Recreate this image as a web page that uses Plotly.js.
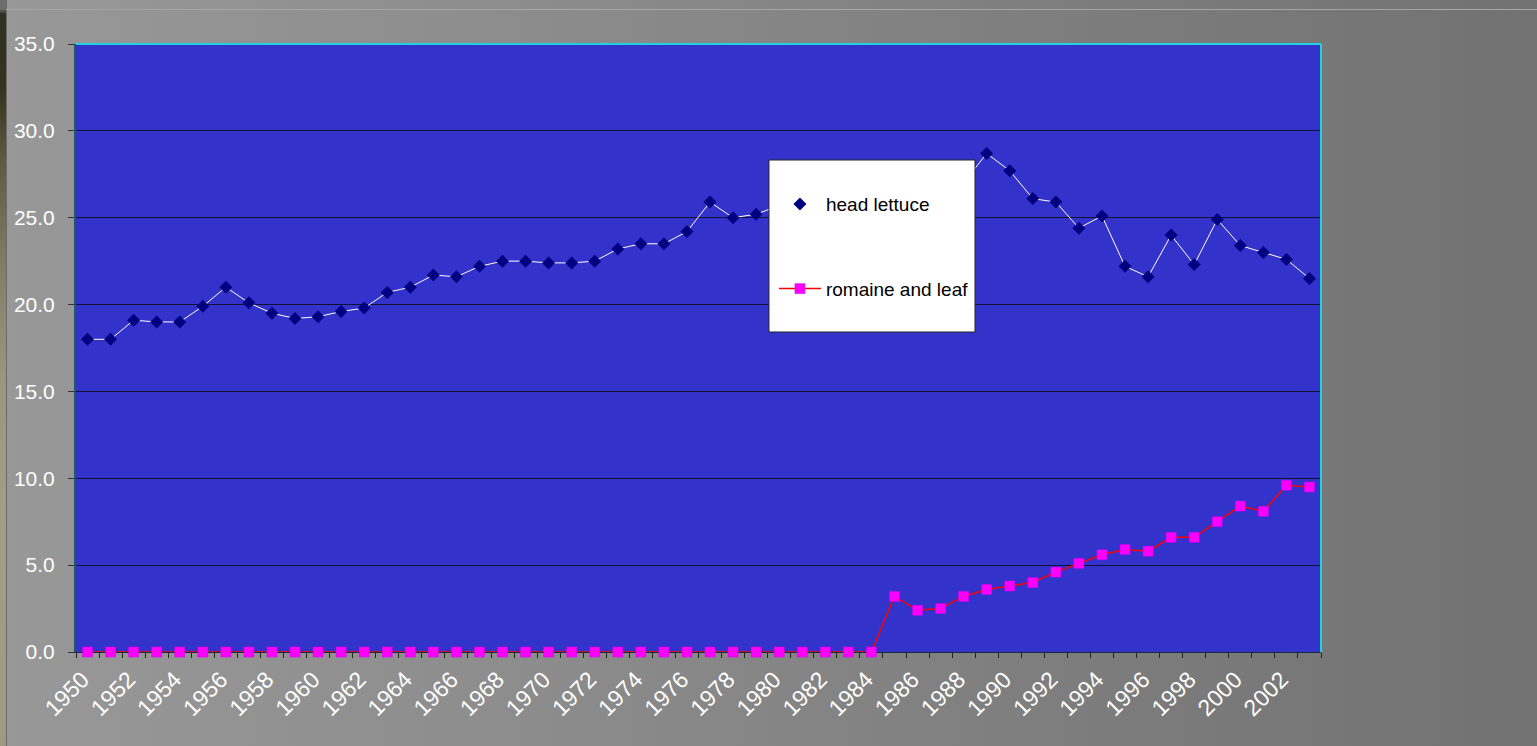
<!DOCTYPE html>
<html>
<head>
<meta charset="utf-8">
<script src="https://cdn.plot.ly/plotly-3.0.1.min.js"></script>
<style>
  html, body { margin: 0; padding: 0; }
  body {
    width: 1537px; height: 746px; overflow: hidden; position: relative;
    background: linear-gradient(to right, #989898 0%, #8c8c8c 35%, #7d7d7d 70%, #727272 100%);
  }
  #edge {
    position: absolute; left: 0; top: 0; width: 6px; height: 746px;
    background: linear-gradient(to bottom, #6e6e6e 0px, #6e6e6e 9px, #2f3122 14px, #34331f 90px,
      #5d5a42 160px, #7f7c66 260px, #9a9680 380px, #a19d86 520px, #9d9a84 746px);
    border-right: 1px solid #6a6a6a;
  }
  #rule {
    position: absolute; left: 6px; top: 9px; width: 1531px; height: 1px; background: #a6a6a6;
  }
  #chart { position: absolute; left: 0; top: 0; width: 1537px; height: 746px; }
</style>
</head>
<body>
<div id="edge"></div>
<div id="rule"></div>
<div id="chart"></div>
<script>
// Per-capita consumption, pounds, 1950-2003
const years = [];
for (let y = 1950; y <= 2003; y++) years.push(y);

const headLettuce = [
  18.0, 18.0, 19.1, 19.0, 19.0, 19.9, 21.0, 20.1, 19.5, 19.2,
  19.3, 19.6, 19.8, 20.7, 21.0, 21.7, 21.6, 22.2, 22.5, 22.5,
  22.4, 22.4, 22.5, 23.2, 23.5, 23.5, 24.2, 25.9, 25.0, 25.2,
  25.7, 25.9, 26.3, 26.1, 26.6, 26.9, 26.3, 27.5, 27.0, 28.7,
  27.7, 26.1, 25.9, 24.4, 25.1, 22.2, 21.6, 24.0, 22.3, 24.9,
  23.4, 23.0, 22.6, 21.5
];

const romaineLeaf = [
  0, 0, 0, 0, 0, 0, 0, 0, 0, 0,
  0, 0, 0, 0, 0, 0, 0, 0, 0, 0,
  0, 0, 0, 0, 0, 0, 0, 0, 0, 0,
  0, 0, 0, 0, 0, 3.2, 2.4, 2.5, 3.2, 3.6,
  3.8, 4.0, 4.6, 5.1, 5.6, 5.9, 5.8, 6.6, 6.6, 7.5,
  8.4, 8.1, 9.6, 9.5
];

const labelYears = years.filter(y => y % 2 === 0);
const labelText = labelYears.map(String);

const font = 'Arial, "Liberation Sans", sans-serif';

const traces = [
  {
    x: years, y: headLettuce, name: 'head lettuce',
    type: 'scatter', mode: 'lines+markers',
    line: { color: '#ffffff', width: 1 },
    marker: { symbol: 'diamond', color: '#000080', size: 10 },
    legendgroup: 'a'
  },
  {
    x: years, y: romaineLeaf, name: 'romaine and leaf',
    type: 'scatter', mode: 'lines+markers', cliponaxis: false,
    line: { color: '#ff0000', width: 1.5 },
    marker: { symbol: 'square', color: '#ff00ff', size: 10,
              line: { color: '#cc00ee', width: 0.5 } },
    legendgroup: 'b'
  }
];

const layout = {
  width: 1537, height: 746,
  margin: { l: 76, r: 216, t: 44, b: 94 },
  paper_bgcolor: 'rgba(0,0,0,0)',
  plot_bgcolor: '#3333cc',
  font: { family: font, color: '#ffffff', size: 20 },
  showlegend: true,
  legend: {
    x: 0.5606, y: 0.768, xanchor: 'left', yanchor: 'top',
    bgcolor: 'rgba(0,0,0,0)', borderwidth: 0,
    font: { family: font, color: '#000000', size: 19 },
    traceorder: 'grouped', tracegroupgap: 57, itemwidth: 42
  },
  xaxis: {
    type: 'linear', range: [1949.5, 2003.5],
    tickmode: 'array', tickvals: labelYears, ticktext: labelText,
    tickangle: -45, ticks: '', showgrid: false, zeroline: false,
    showline: true, linecolor: '#1a2a3a', linewidth: 1,
    layer: 'below traces',
    ticklabelstandoff: 4, ticklabelshift: -5,
    tickfont: { family: font, color: '#ffffff', size: 23 },
    minor: { tickmode: 'linear', tick0: 1949.5, dtick: 1, ticks: 'outside',
             ticklen: 5, tickcolor: '#222222', tickwidth: 1, showgrid: false },
    fixedrange: true
  },
  yaxis: {
    range: [0, 35], dtick: 5, tick0: 0, tickformat: '.1f',
    ticks: 'outside', ticklen: 6, tickcolor: '#333333',
    showgrid: true, gridcolor: '#111133', gridwidth: 1,
    zeroline: false, showline: true, linecolor: '#1e5a5a', linewidth: 2,
    ticklabelstandoff: 9,
    tickfont: { family: font, color: '#ffffff', size: 21 },
    fixedrange: true
  },
  shapes: [
    // cyan frame on the top and right of the plot area
    { type: 'line', xref: 'paper', yref: 'paper', x0: 0, x1: 1, y0: 1, y1: 1,
      line: { color: '#22d0e0', width: 2 }, layer: 'above' },
    { type: 'line', xref: 'paper', yref: 'paper', x0: 1, x1: 1, y0: 0, y1: 1,
      line: { color: '#22d0e0', width: 2 }, layer: 'above' },
    // legend panel
    { type: 'rect', xref: 'paper', yref: 'paper',
      x0: 0.5566, x1: 0.7221, y0: 0.5263, y1: 0.8092,
      fillcolor: '#ffffff', line: { color: '#222222', width: 1 }, layer: 'above' }
  ]
};

Plotly.newPlot('chart', traces, layout, { displayModeBar: false, staticPlot: true });
</script>
</body>
</html>
